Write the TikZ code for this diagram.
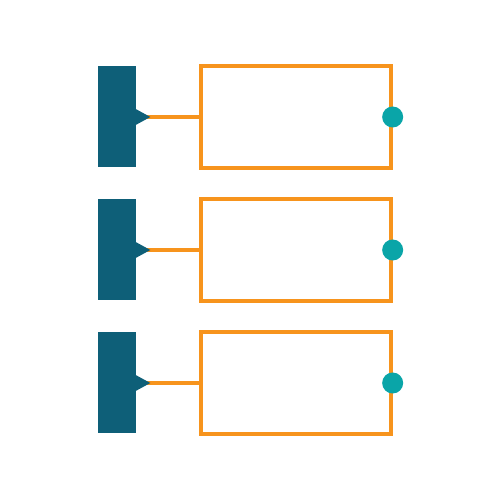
\documentclass[tikz,border=0pt]{standalone}
\usepackage{tikz}
\usetikzlibrary{shapes,arrows}
\definecolor{barblue}{HTML}{0E5F78}
\definecolor{frameorange}{HTML}{F7941D}
\definecolor{dotteal}{HTML}{0AA5A8}

\begin{document}
\begin{tikzpicture}
\tikzset{
	bar/.style={rectangle, fill=barblue, minimum width=0.76cm, minimum height=2.02cm, inner sep=0pt},
	frame/.style={rectangle, draw=frameorange, line width=1.9pt, minimum width=3.8cm, minimum height=2.04cm, inner sep=0pt},
	dot/.style={circle, fill=dotteal, minimum size=0.42cm, inner sep=0pt},
	link/.style={draw=frameorange, line width=1.9pt},
	pointer/.style={fill=barblue}
}
	\useasboundingbox (0,0) rectangle (10,10);
	\node[bar](b0) at (2.34,7.66){};
	\node[bar, node distance=2.66cm, below of=b0](b1){};
	\node[bar, node distance=2.66cm, below of=b1](b2){};
	\node[frame, node distance=3.58cm, right of=b0](f0){};
	\node[frame, node distance=3.58cm, right of=b1](f1){};
	\node[frame, node distance=3.58cm, right of=b2](f2){};
	\path[link](b0.east)--(f0.west);
	\path[link](b1.east)--(f1.west);
	\path[link](b2.east)--(f2.west);
	\path[pointer]([xshift=-0.05cm, yshift=0.18cm]b0.east)--++(0.33,-0.18)--++(-0.33,-0.18)--cycle;
	\path[pointer]([xshift=-0.05cm, yshift=0.18cm]b1.east)--++(0.33,-0.18)--++(-0.33,-0.18)--cycle;
	\path[pointer]([xshift=-0.05cm, yshift=0.18cm]b2.east)--++(0.33,-0.18)--++(-0.33,-0.18)--cycle;
	\node[dot](d0) at (f0.east){};
	\node[dot](d1) at (f1.east){};
	\node[dot](d2) at (f2.east){};
\end{tikzpicture}
\end{document}
